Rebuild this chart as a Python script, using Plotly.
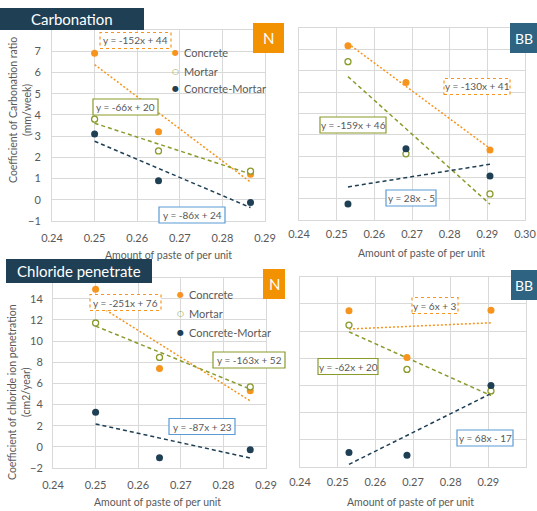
import numpy as np
import plotly.graph_objects as go

W, H = 537, 511
FONT = "Lato"
GRAY = "#595959"
ORANGE = "#f7941d"
OLIVE = "#8a9a2b"
NAVY = "#1f3f55"
BLUEBOX = "#5b9bd5"

series_names = ["Concrete", "Mortar", "Concrete-Mortar"]

# Carbonation, N (mm/week)
carb_n_x = [0.250, 0.265, 0.2866]
carb_n_concrete = [6.9, 3.2, 1.2]
carb_n_mortar = [3.8, 2.3, 1.35]
carb_n_cm = [3.1, 0.9, -0.13]

# Carbonation, BB
carb_bb_x = [0.253, 0.2684, 0.2907]
carb_bb_concrete = [7.17, 5.44, 2.28]
carb_bb_mortar = [6.42, 2.1, 0.22]
carb_bb_cm = [-0.25, 2.34, 1.06]

# Chloride, N (cm2/year)
chl_n_x = [0.250, 0.265, 0.2863]
chl_n_concrete = [14.9, 7.39, 5.31]
chl_n_mortar = [11.7, 8.45, 5.66]
chl_n_cm = [3.26, -1.04, -0.28]

# Chloride, BB
chl_bb_x = [0.253, 0.2684, 0.2907]
chl_bb_concrete = [5.75, 4.03, 5.77]
chl_bb_mortar = [5.22, 3.59, 2.8]
chl_bb_cm = [0.53, 0.43, 3.0]

eq_carb_n = ["y = -152x + 44", "y = -66x + 20", "y = -86x + 24"]
eq_carb_bb = ["y = -130x + 41", "y = -159x + 46", "y = 28x - 5"]
eq_chl_n = ["y = -251x + 76", "y = -163x + 52", "y = -87x + 23"]
eq_chl_bb = ["y = 6x + 3", "y = -62x + 20", "y = 68x - 17"]

carb_yticks = [-1, 0, 1, 2, 3, 4, 5, 6, 7]
chl_yticks = [-2, 0, 2, 4, 6, 8, 10, 12, 14]

x_title = "Amount of paste of per unit"


def px(x):
    return x / W


def py(y):
    return 1 - y / H


fig = go.Figure()

panels = [
    ("x", "y", carb_n_x, [carb_n_concrete, carb_n_mortar, carb_n_cm]),
    ("x2", "y2", carb_bb_x, [carb_bb_concrete, carb_bb_mortar, carb_bb_cm]),
    ("x3", "y3", chl_n_x, [chl_n_concrete, chl_n_mortar, chl_n_cm]),
    ("x4", "y4", chl_bb_x, [chl_bb_concrete, chl_bb_mortar, chl_bb_cm]),
]

colors = [ORANGE, OLIVE, NAVY]
dashes = ["2px,2px", "4px,3px", "4px,3px"]

for xa, ya, xs, ys in panels:
    xs_arr = np.array(xs)
    for i, (vals, name) in enumerate(zip(ys, series_names)):
        m, b = np.polyfit(xs_arr, np.array(vals), 1)
        xl = np.array([xs_arr.min(), xs_arr.max()])
        fig.add_trace(go.Scatter(
            x=xl, y=m * xl + b, mode="lines", xaxis=xa, yaxis=ya,
            line=dict(color=colors[i], width=1.5, dash=dashes[i]),
            showlegend=False, hoverinfo="skip"))
    for i, (vals, name) in enumerate(zip(ys, series_names)):
        if i == 1:
            marker = dict(color="white", size=6, symbol="circle",
                          line=dict(color=OLIVE, width=1.3))
        else:
            marker = dict(color=colors[i], size=7, symbol="circle",
                          line=dict(width=0))
        fig.add_trace(go.Scatter(
            x=xs, y=vals, mode="markers", xaxis=xa, yaxis=ya, name=name,
            marker=marker, showlegend=False))

axis_common = dict(showgrid=True, gridcolor="#d9d9d9", gridwidth=1,
                   zeroline=False, showline=True, linecolor="#d9d9d9",
                   mirror=True, ticks="", automargin=False,
                   tickfont=dict(family=FONT, size=11, color=GRAY))

fig.update_layout(
    width=W, height=H, margin=dict(l=0, r=0, t=0, b=0, autoexpand=False),
    paper_bgcolor="white", plot_bgcolor="white", showlegend=False,
    font=dict(family=FONT, color=GRAY),
    xaxis=dict(domain=[px(52), px(265)], range=[0.24, 0.29], dtick=0.01,
               tickformat=".2f", anchor="y", ticklabelstandoff=7,
               **axis_common),
    yaxis=dict(domain=[py(221), py(30)], range=[-1, 8],
               tickvals=carb_yticks, anchor="x", ticklabelstandoff=8,
               **axis_common),
    xaxis2=dict(domain=[px(299), px(525)], range=[0.24, 0.30], dtick=0.01,
                tickformat=".2f", anchor="y2", ticklabelstandoff=4,
                **axis_common),
    yaxis2=dict(domain=[py(220), py(28)], range=[-1, 8], dtick=1,
                showticklabels=False, anchor="x2", **axis_common),
    xaxis3=dict(domain=[px(53), px(266)], range=[0.24, 0.29], dtick=0.01,
                tickformat=".2f", anchor="y3", ticklabelstandoff=7,
                **axis_common),
    yaxis3=dict(domain=[py(468), py(277.5)], range=[-2, 16],
                tickvals=chl_yticks, anchor="x3", ticklabelstandoff=7,
                **axis_common),
    xaxis4=dict(domain=[px(300), px(526)], range=[0.24, 0.30], dtick=0.01,
                tickformat=".2f", anchor="y4", ticklabelstandoff=5,
                **axis_common),
    yaxis4=dict(domain=[py(467), py(276.7)], range=[0, 7], dtick=1,
                showticklabels=False, anchor="x4", **axis_common),
)

shapes = []
ann = []


def text(x, y, s, size=11, color=GRAY, **kw):
    ann.append(dict(x=px(x), y=py(y), xref="paper", yref="paper", text=s,
                    showarrow=False, xanchor=kw.pop("xanchor", "center"),
                    yanchor=kw.pop("yanchor", "middle"),
                    font=dict(family=FONT, size=size, color=color), **kw))


def box(x0, y0, x1, y1, fill, line=None, dash=None):
    shapes.append(dict(type="rect", xref="paper", yref="paper",
                       x0=px(x0), x1=px(x1), y0=py(y1), y1=py(y0),
                       fillcolor=fill, layer="above",
                       line=dict(color=line or fill, width=1.2 if line else 0,
                                 dash=dash or "solid")))


# axis titles
text(168, 255, x_title, size=10.5)
text(421, 253, x_title, size=10.5)
text(157, 502, x_title, size=10.5)
text(410, 502, x_title, size=10.5)
text(20, 110, "Coefficient of Carbonation ratio<br>(mm/week)", size=10.5,
     textangle=-90)
text(19, 392, "Coefficient of chloride ion penetration<br>(cm2/year)",
     size=10.5, textangle=-90)

# equation labels: (center x, center y, half width)
eq_pos = [
    (eq_carb_n, [(135.5, 40.5, 35.5), (125.5, 107, 32.5), (192, 215, 33)]),
    (eq_carb_bb, [(477, 86.5, 33), (353, 125, 33), (411, 198, 25)]),
    (eq_chl_n, [(125.5, 302.5, 35.5), (249, 360, 36), (202, 426.5, 33)]),
    (eq_chl_bb, [(435, 305.5, 23), (348, 366.5, 30), (485, 438, 28)]),
]
for eqs, poss in eq_pos:
    for i, (s, (cx, cy, hw)) in enumerate(zip(eqs, poss)):
        if i == 0:
            box(cx - hw, cy - 8, cx + hw, cy + 8, "white", ORANGE, "dot")
        elif i == 1:
            box(cx - hw, cy - 8, cx + hw, cy + 8, "white", OLIVE)
        else:
            box(cx - hw, cy - 8, cx + hw, cy + 8, "white", BLUEBOX)
        text(cx, cy, s, size=10)

# legends (top-left and bottom-left panels)
for ys0 in ([52, 71, 89], [294, 313, 332]):
    lx = 175 if ys0[0] < 200 else 180
    for i, (yy, name) in enumerate(zip(ys0, series_names)):
        sym = "○" if i == 1 else "●"
        ann.append(dict(x=px(lx), y=py(yy), xref="paper", yref="paper",
                        text=("<b>%s</b>" % sym) if i == 1 else sym,
                        showarrow=False, xanchor="center",
                        yanchor="middle",
                        font=dict(family="DejaVu Sans", size=8,
                                  color=colors[i])))
        text(lx + 7, yy, name, size=11, xanchor="left")

# title boxes
box(0, 8, 144, 30, NAVY)
text(72, 19, "Carbonation", size=15, color="white")
box(6, 259, 152, 283, NAVY)
text(79, 271, "Chloride penetrate", size=15, color="white")
box(253, 23, 284, 53, "#f39200")
text(268.5, 38, "N", size=15, color="white")
box(510, 23, 537, 53, "#2e6482")
text(523.5, 38, "BB", size=14, color="white")
box(263, 269, 285, 299, "#f39200")
text(274, 284, "N", size=15, color="white")
box(511, 270, 537, 300, "#2e6482")
text(524, 285, "BB", size=14, color="white")

fig.update_layout(shapes=shapes, annotations=ann)
fig.write_html(
    "out.html",
    config={"displayModeBar": False},
    post_script="document.body.style.margin='0';"
                "document.body.style.overflow='hidden';")
